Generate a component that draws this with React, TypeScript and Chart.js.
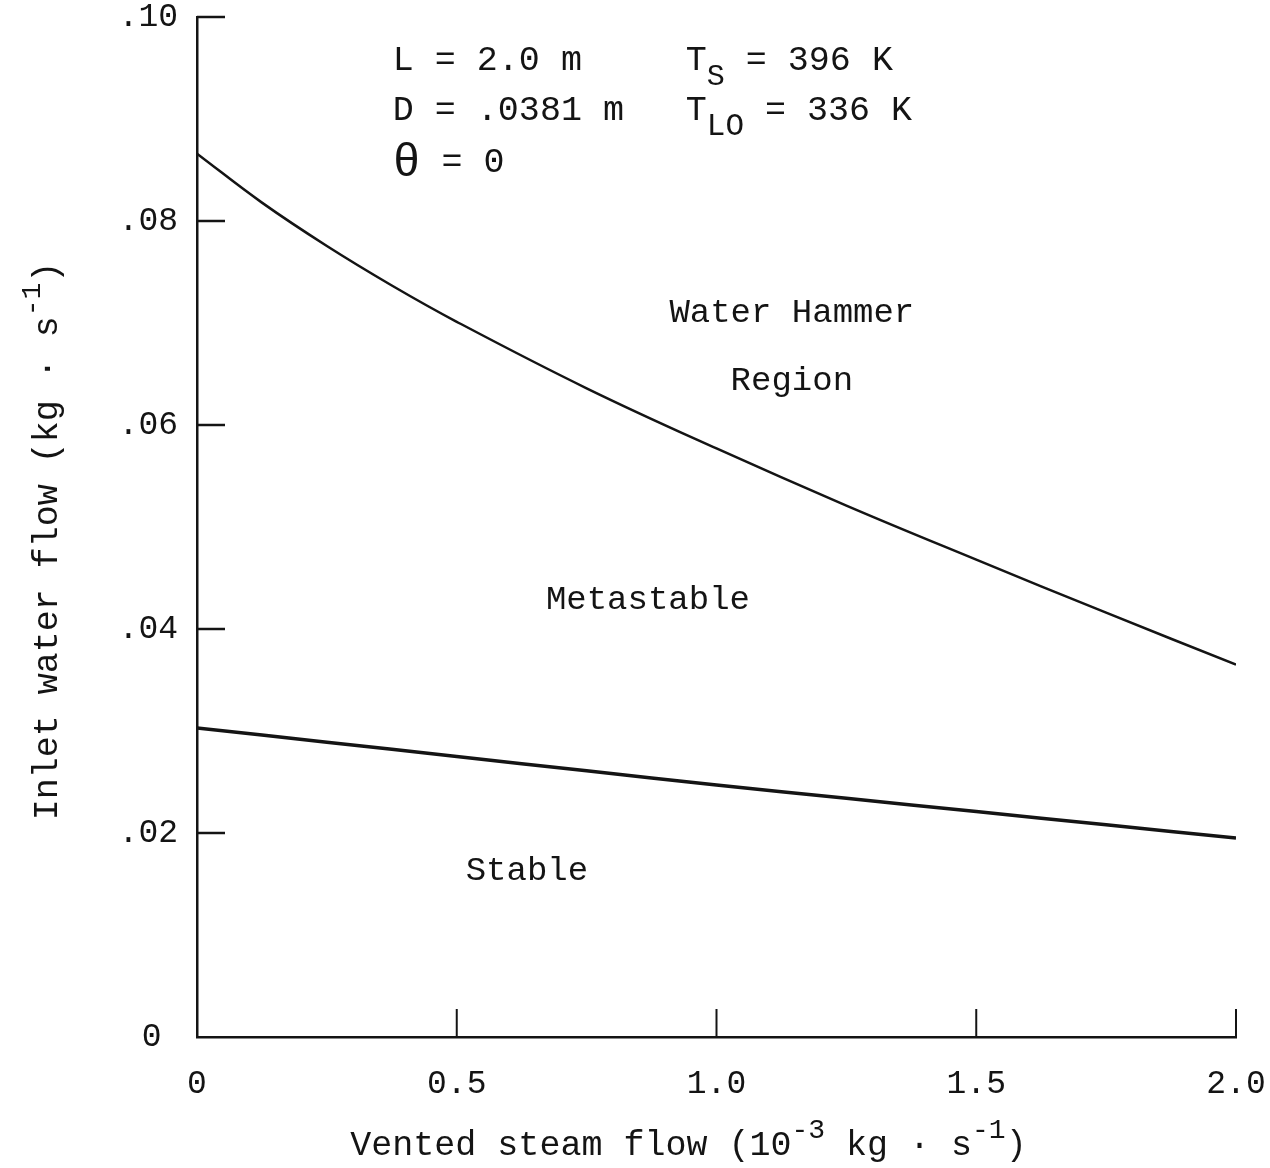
import React, { useEffect, useRef } from 'react';
import { Chart, registerables } from 'chart.js';

Chart.register(...registerables);

const FONT = '"Liberation Mono", "Courier New", monospace';
const INK = '#141414';

// Upper boundary (water hammer onset)
const upperX = [0, 0.125, 0.25, 0.375, 0.5, 0.75, 1.0, 1.25, 1.5, 1.75, 2.0];
const upperY = [0.0866, 0.0818, 0.07755, 0.07368, 0.07012, 0.0636, 0.0577, 0.0521, 0.0468, 0.0416, 0.0365];
// Lower boundary (stable limit)
const lowerX = [0, 0.25, 0.5, 0.75, 1.0, 1.25, 1.5, 1.75, 2.0];
const lowerY = [0.0303, 0.0289, 0.0275, 0.0261, 0.0247, 0.0234, 0.0221, 0.0208, 0.0195];

const xTicks = [0, 0.5, 1.0, 1.5, 2.0];
const xTickLabels = ['0', '0.5', '1.0', '1.5', '2.0'];
const yTicks = [0, 0.02, 0.04, 0.06, 0.08, 0.1];
const yTickLabels = ['0\u2002', '.02', '.04', '.06', '.08', '.10'];

const regionLabels = ['Water Hammer', 'Region', 'Metastable', 'Stable'];
const regionX = [1.145, 1.145, 0.868, 0.635];
const regionY = [0.0701, 0.0634, 0.042, 0.0154];

type Run = { t: string; dy?: number; s?: number };

const paramLeft: Run[][] = [
  [{ t: 'L = 2.0 m' }],
  [{ t: 'D = .0381 m' }],
  [{ t: 'θ', s: 1.3, dy: 4 }, { t: ' = 0' }],
];
const paramLeftX = [0.377, 0.377, 0.377];
const paramLeftY = [0.0948, 0.0899, 0.0848];

const paramRight: Run[][] = [
  [{ t: 'T' }, { t: 'S', dy: 15, s: 0.85 }, { t: ' = 396 K' }],
  [{ t: 'T' }, { t: 'LO', dy: 15, s: 0.88 }, { t: ' = 336 K' }],
];
const paramRightX = [0.941, 0.941];
const paramRightY = [0.0948, 0.0899];

const xTitle: Run[] = [
  { t: 'Vented steam flow (10' },
  { t: '-3', dy: -17, s: 0.8 },
  { t: ' kg · s' },
  { t: '-1', dy: -17, s: 0.8 },
  { t: ')' },
];
const yTitle: Run[] = [
  { t: 'Inlet water flow (kg · s' },
  { t: '-1', dy: -17, s: 0.8 },
  { t: ')' },
];

const FS = 34;

function drawRuns(ctx: CanvasRenderingContext2D, runs: Run[], x: number, y: number, size: number, align: 'left' | 'center') {
  ctx.textAlign = 'left';
  ctx.textBaseline = 'alphabetic';
  let total = 0;
  const widths = runs.map((r) => {
    ctx.font = `${Math.round(size * (r.s ?? 1))}px ${FONT}`;
    const w = ctx.measureText(r.t).width;
    total += w;
    return w;
  });
  let cx = align === 'center' ? x - total / 2 : x;
  runs.forEach((r, i) => {
    ctx.font = `${Math.round(size * (r.s ?? 1))}px ${FONT}`;
    ctx.fillText(r.t, cx, y + (r.dy ?? 0));
    cx += widths[i];
  });
}

const decorPlugin = {
  id: 'decor',
  afterDatasetsDraw(chart: any) {
    const ctx: CanvasRenderingContext2D = chart.ctx;
    const xs = chart.scales.x;
    const ys = chart.scales.y;
    const area = chart.chartArea;
    ctx.save();
    ctx.strokeStyle = INK;
    ctx.fillStyle = INK;
    ctx.lineWidth = 2.5;
    // inward ticks
    yTicks.forEach((v) => {
      if (v === 0) return;
      const py = ys.getPixelForValue(v);
      ctx.beginPath();
      ctx.moveTo(area.left, py);
      ctx.lineTo(area.left + 28, py);
      ctx.stroke();
    });
    ctx.lineWidth = 2;
    xTicks.forEach((v) => {
      if (v === 0) return;
      const px = xs.getPixelForValue(v);
      ctx.beginPath();
      ctx.moveTo(px, area.bottom);
      ctx.lineTo(px, area.bottom - 28);
      ctx.stroke();
    });
    // region labels
    regionLabels.forEach((t, i) => {
      drawRuns(ctx, [{ t }], xs.getPixelForValue(regionX[i]), ys.getPixelForValue(regionY[i]), FS, 'center');
    });
    paramLeft.forEach((runs, i) => {
      drawRuns(ctx, runs, xs.getPixelForValue(paramLeftX[i]), ys.getPixelForValue(paramLeftY[i]), 35, 'left');
    });
    paramRight.forEach((runs, i) => {
      drawRuns(ctx, runs, xs.getPixelForValue(paramRightX[i]), ys.getPixelForValue(paramRightY[i]), 35, 'left');
    });
    // axis titles
    drawRuns(ctx, xTitle, (area.left + area.right) / 2 - 28, 1155, 35, 'center');
    ctx.translate(57, 541);
    ctx.rotate(-Math.PI / 2);
    drawRuns(ctx, yTitle, 0, 0, 35, 'center');
    ctx.restore();
  },
};

export default function App() {
  const ref = useRef<HTMLCanvasElement | null>(null);
  useEffect(() => {
    if (!ref.current) return;
    const chart = new Chart(ref.current, {
      type: 'scatter',
      data: {
        datasets: [
          {
            label: 'Water hammer boundary',
            data: upperX.map((x, i) => ({ x, y: upperY[i] })),
            showLine: true,
            borderColor: INK,
            borderWidth: 2.5,
            pointRadius: 0,
            tension: 0.4,
          },
          {
            label: 'Stable boundary',
            data: lowerX.map((x, i) => ({ x, y: lowerY[i] })),
            showLine: true,
            borderColor: INK,
            borderWidth: 3.5,
            pointRadius: 0,
            tension: 0.4,
          },
        ],
      },
      options: {
        responsive: false,
        animation: false,
        devicePixelRatio: 1,
        layout: { padding: { top: 17, right: 34, left: 0, bottom: 0 } },
        plugins: { legend: { display: false }, tooltip: { enabled: false }, title: { display: false } },
        scales: {
          x: {
            type: 'linear',
            min: 0,
            max: 2,
            afterBuildTicks: (s: any) => {
              s.ticks = xTicks.map((value) => ({ value }));
            },
            afterFit: (s: any) => {
              s.height = 131;
              s.paddingLeft = 0;
              s.paddingRight = 0;
            },
            grid: { display: false, drawTicks: false },
            border: { display: true, color: INK, width: 2.5 },
            ticks: {
              color: INK,
              font: { family: FONT, size: 33 },
              padding: 27,
              maxRotation: 0,
              autoSkip: false,
              callback: (v: any) => {
                const i = xTicks.findIndex((t) => Math.abs(t - v) < 1e-9);
                return i >= 0 ? xTickLabels[i] : '';
              },
            },
          },
          y: {
            type: 'linear',
            min: 0,
            max: 0.1,
            afterBuildTicks: (s: any) => {
              s.ticks = yTicks.map((value) => ({ value }));
            },
            afterFit: (s: any) => {
              s.width = 197;
              s.paddingTop = 0;
              s.paddingBottom = 0;
            },
            grid: { display: false, drawTicks: false },
            border: { display: true, color: INK, width: 2.5 },
            ticks: {
              color: INK,
              font: { family: FONT, size: 33 },
              padding: 19,
              autoSkip: false,
              callback: (v: any) => {
                const i = yTicks.findIndex((t) => Math.abs(t - v) < 1e-9);
                return i >= 0 ? yTickLabels[i] : '';
              },
            },
          },
        },
      },
      plugins: [decorPlugin],
    } as any);
    return () => chart.destroy();
  }, []);
  return (
    <div style={{ position: 'absolute', left: 0, top: 0, width: 1270, height: 1168, background: '#fff' }}>
      <canvas ref={ref} width={1270} height={1168} style={{ display: 'block' }} />
    </div>
  );
}
